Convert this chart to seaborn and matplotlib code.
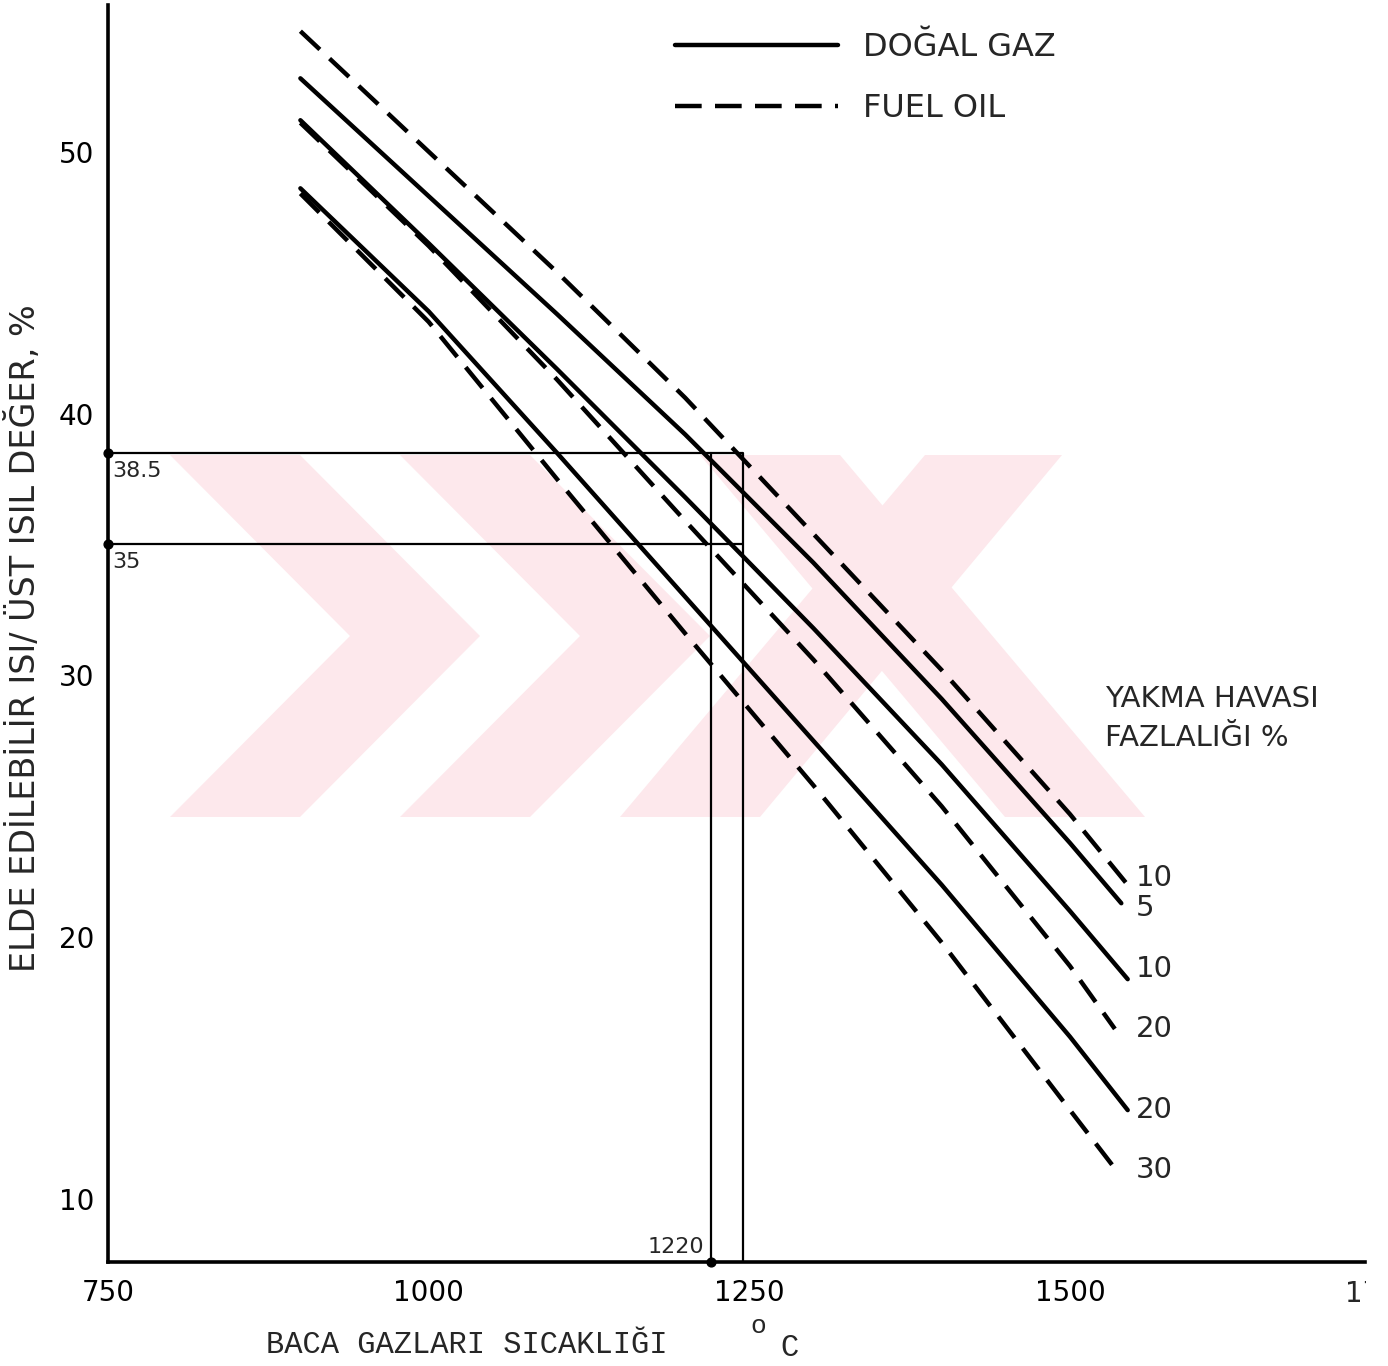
import numpy as np
import pandas as pd
import matplotlib
matplotlib.use("Agg")
import matplotlib.pyplot as plt
import seaborn as sns
from matplotlib.lines import Line2D
from matplotlib.patches import Polygon
import matplotlib.transforms as mtransforms

# ---------------- data ----------------
temps_gas_5 = [900, 1000, 1100, 1200, 1300, 1400, 1500, 1540]
gas_5 = [52.8, 48.3, 43.8, 39.2, 34.3, 29.1, 23.6, 21.3]

temps_gas_10 = [900, 1000, 1100, 1200, 1300, 1400, 1500, 1545]
gas_10 = [51.2, 46.5, 41.7, 36.8, 31.8, 26.6, 21.0, 18.4]

temps_gas_20 = [900, 1000, 1100, 1200, 1300, 1400, 1500, 1545]
gas_20 = [48.6, 43.9, 38.5, 33.0, 27.5, 22.0, 16.2, 13.4]

temps_oil_10 = [900, 1000, 1100, 1200, 1300, 1400, 1500, 1545]
oil_10 = [54.6, 50.0, 45.4, 40.6, 35.4, 30.2, 24.7, 22.0]

temps_oil_20 = [900, 1000, 1100, 1200, 1300, 1400, 1500, 1535]
oil_20 = [51.1, 46.4, 41.3, 35.9, 30.6, 25.0, 18.9, 16.5]

temps_oil_30 = [900, 1000, 1100, 1200, 1300, 1400, 1500, 1533]
oil_30 = [48.4, 43.5, 37.5, 31.6, 25.8, 19.8, 13.4, 11.3]

fuel_names = ["DOĞAL GAZ", "FUEL OIL"]
curve_labels = ["10", "5", "10", "20", "20", "30"]   # top to bottom at right end

ref_y = [38.5, 35]          # horizontal reading lines
ref_x = [1220, 1245]        # vertical reading lines
ref_y_labels = ["38.5", "35"]
ref_x_label = "1220"

x_ticks = [750, 1000, 1250, 1500]
x_tick_labels = ["750", "1000", "1250", "1500"]
y_ticks = [10, 20, 30, 40, 50]

# ---------------- table ----------------
curves = [
    ("oil10", fuel_names[1], temps_oil_10, oil_10),
    ("gas5", fuel_names[0], temps_gas_5, gas_5),
    ("gas10", fuel_names[0], temps_gas_10, gas_10),
    ("oil20", fuel_names[1], temps_oil_20, oil_20),
    ("gas20", fuel_names[0], temps_gas_20, gas_20),
    ("oil30", fuel_names[1], temps_oil_30, oil_30),
]
rows = []
for cid, fuel, ts, vs in curves:
    for t, v in zip(ts, vs):
        rows.append({"curve": cid, "fuel": fuel, "T": t, "V": v})
df = pd.DataFrame(rows)

# ---------------- style ----------------
sns.set_style("white")
plt.rcParams["font.family"] = ["DejaVu Sans"]

W, H = 1388, 1366
fig = plt.figure(figsize=(W / 100, H / 100), dpi=100)
ax = fig.add_axes([108 / W, 1 - 1262 / H, (1365 - 108) / W, (1262 - 5) / H])
ax.set_facecolor("none")

# watermark (light pink logo behind the chart)
wm_color = "#fde8ec"
wm_polys = [
    [(170, 455), (300, 455), (480, 636), (300, 817), (170, 817), (350, 636)],
    [(400, 455), (530, 455), (710, 636), (530, 817), (400, 817), (580, 636)],
    [(700, 455), (840, 455), (1145, 817), (1005, 817)],
    [(925, 455), (1062, 455), (760, 817), (620, 817)],
]
for poly in wm_polys:
    pts = [(x / W, 1 - y / H) for x, y in poly]
    fig.patches.append(Polygon(pts, closed=True, transform=fig.transFigure,
                               facecolor=wm_color, edgecolor="none", zorder=-5))

sns.lineplot(data=df, x="T", y="V", units="curve", estimator=None,
             style="fuel", style_order=fuel_names,
             dashes={fuel_names[0]: "", fuel_names[1]: (6, 3)},
             color="black", linewidth=3.2, legend=False, ax=ax, sort=False)

ax.set_xlim(750, 1730)
ax.set_ylim(7.6, 55.6)
ymin = 7.6

# reading lines
for yv in ref_y:
    ax.plot([750, ref_x[1]], [yv, yv], color="black", lw=1.6, solid_capstyle="butt")
for xv in ref_x:
    ax.plot([xv, xv], [ymin, ref_y[0]], color="black", lw=1.6)
ax.scatter([750, 750, ref_x[0]], [ref_y[0], ref_y[1], ymin], s=40, color="black",
           zorder=5, clip_on=False)
for yv, lab in zip(ref_y, ref_y_labels):
    ax.text(753, yv - 0.3, lab, fontsize=16, ha="left", va="top")
ax.text(ref_x[0] - 5, ymin + 0.2, ref_x_label, fontsize=16, ha="right", va="bottom")

# curve labels at right end
label_nudge = [0.25, -0.2, 0.4, 0.0, 0.0, -0.2]
for (cid, fuel, ts, vs), lab, dy in zip(curves, curve_labels, label_nudge):
    ax.text(1551, vs[-1] + dy, lab, fontsize=21, ha="left", va="center")

ax.text(1527, 29.1, "YAKMA HAVASI", fontsize=21, ha="left", va="center")
ax.text(1527, 27.6, "FAZLALIĞI %", fontsize=21, ha="left", va="center")

# axes styling
for s in ["top", "right"]:
    ax.spines[s].set_visible(False)
for s in ["left", "bottom"]:
    ax.spines[s].set_linewidth(2.6)
    ax.spines[s].set_color("black")
ax.set_xticks(x_ticks)
ax.set_xticklabels(x_tick_labels)
ax.set_yticks(y_ticks)
ax.tick_params(direction="in", length=11, width=2.2, labelsize=20, colors="black")
ax.tick_params(axis="x", pad=12)
ax.tick_params(axis="y", pad=10)
ax.set_xlabel("")
ax.set_ylabel("")
# the scanned page is cut at its right edge, leaving only "17" of "1750"
trans = mtransforms.blended_transform_factory(ax.transData, ax.transAxes)
t1750 = ax.text(1742, -0.014, "1750", transform=trans, fontsize=20, ha="center",
                va="top")
t1750.set_clip_on(True)
t1750.set_clip_box(mtransforms.Bbox([[0, 0], [1366, H]]))

# legend
handles = [Line2D([], [], color="black", lw=3.2),
           Line2D([], [], color="black", lw=3.2, dashes=(6, 3))]
fig.legend(handles, fuel_names, loc="center left", bbox_to_anchor=(675 / W, 1 - 78 / H),
           bbox_transform=fig.transFigure, frameon=False, fontsize=23,
           handlelength=5.1, handletextpad=0.8, labelspacing=0.95,
           borderpad=0, borderaxespad=0)

# axis titles
fig.text(24 / W, 1 - 638 / H, "ELDE EDİLEBİLİR ISI/ ÜST ISIL DEĞER, %", rotation=90,
         fontsize=24, ha="center", va="center")
mono = ["Liberation Mono", "DejaVu Sans Mono"]
fig.text(467 / W, 1 - 1345 / H, "BACA GAZLARI SICAKLIĞI", fontsize=22,
         family=mono, ha="center", va="center")
fig.text(758 / W, 1 - 1326 / H, "o", fontsize=19, ha="center", va="center", family=mono)
fig.text(790 / W, 1 - 1348 / H, "C", fontsize=22, ha="center", va="center", family=mono)

fig.savefig("out.png", dpi=100, facecolor="white")
